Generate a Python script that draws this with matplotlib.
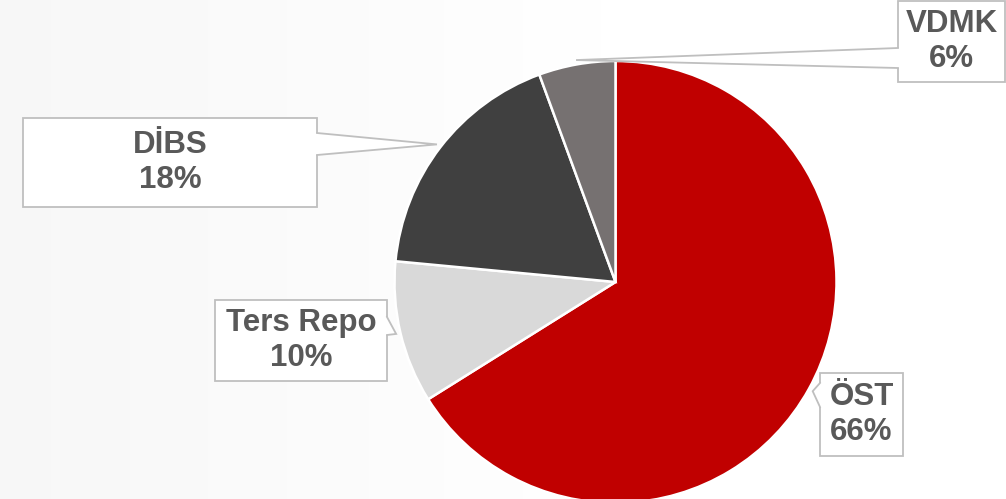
import matplotlib
matplotlib.use('Agg')
import matplotlib.pyplot as plt
import numpy as np
from matplotlib.patches import Rectangle, Polygon

# ---- data ----
categories = ['ÖST', 'Ters Repo', 'DİBS', 'VDMK']
shares = [66.1, 10.4, 17.9, 5.6]
colors = ['#C00000', '#D9D9D9', '#404040', '#767171']

# ---- layout (pixel coordinates, y measured from top) ----
W, H = 1006, 499
CX, CY, R = 615.5, 282, 221
boxes = {
    'ÖST': (820, 373, 903, 456),
    'Ters Repo': (215, 300, 387, 381),
    'DİBS': (23, 118, 317, 207),
    'VDMK': (898, 1, 1005, 82),
}
bases = {
    'ÖST': ('left', 383, 407),
    'Ters Repo': ('right', 317, 335),
    'DİBS': ('right', 133, 155),
    'VDMK': ('left', 48, 68),
}
text_color = '#595959'
edge_color = '#BFBFBF'

fig = plt.figure(figsize=(W / 100, H / 100), dpi=100)

# background gradient (very light)
bg = fig.add_axes([0, 0, 1, 1])
grad = np.clip(np.linspace(0, 1, 256) / 0.6, 0, 1) * 0.03 + 0.97
img = np.tile(grad, (10, 1))
bg.imshow(np.dstack([img, img, img]), aspect='auto', extent=(0, 1, 0, 1))
bg.set_axis_off()

ax = fig.add_axes([0, 0, 1, 1])
ax.patch.set_alpha(0)

def fy(y):
    return H - y

wedges, _ = ax.pie(shares, colors=colors, startangle=90, counterclock=False,
                   center=(CX, fy(CY)), radius=R,
                   wedgeprops=dict(edgecolor='white', linewidth=1.8))
ax.set_xlim(0, W)
ax.set_ylim(0, H)
ax.set_aspect('equal')
ax.set_axis_off()

for cat, share, w in zip(categories, shares, wedges):
    x0, y0, x1, y1 = boxes[cat]
    ax.add_patch(Rectangle((x0, fy(y1)), x1 - x0, y1 - y0, facecolor='white',
                           edgecolor=edge_color, linewidth=1.3, zorder=3,
                           clip_on=False))
    mid = np.deg2rad((w.theta1 + w.theta2) / 2)
    tip = (CX + 1.02 * R * np.cos(mid), fy(CY) + 1.02 * R * np.sin(mid))
    side, b1, b2 = bases[cat]
    bx = x0 if side == 'left' else x1
    inset = 3 if side == 'left' else -3
    p1 = (bx, fy(b1))
    p2 = (bx, fy(b2))
    ax.add_patch(Polygon([(bx + inset, fy(b1)), p1, tip, p2, (bx + inset, fy(b2))],
                         closed=True, facecolor='white', edgecolor='none', zorder=4))
    ax.plot([p1[0], tip[0], p2[0]], [p1[1], tip[1], p2[1]], color=edge_color,
            linewidth=1.3, zorder=5, solid_joinstyle='miter')
    ax.text((x0 + x1) / 2, fy((y0 + y1) / 2), f"{cat}\n{round(share):d}%",
            ha='center', va='center', fontsize=22.5, fontweight='bold',
            color=text_color, family=['Liberation Sans', 'DejaVu Sans'],
            linespacing=1.26, zorder=6)

fig.savefig('out.png', dpi=100)
